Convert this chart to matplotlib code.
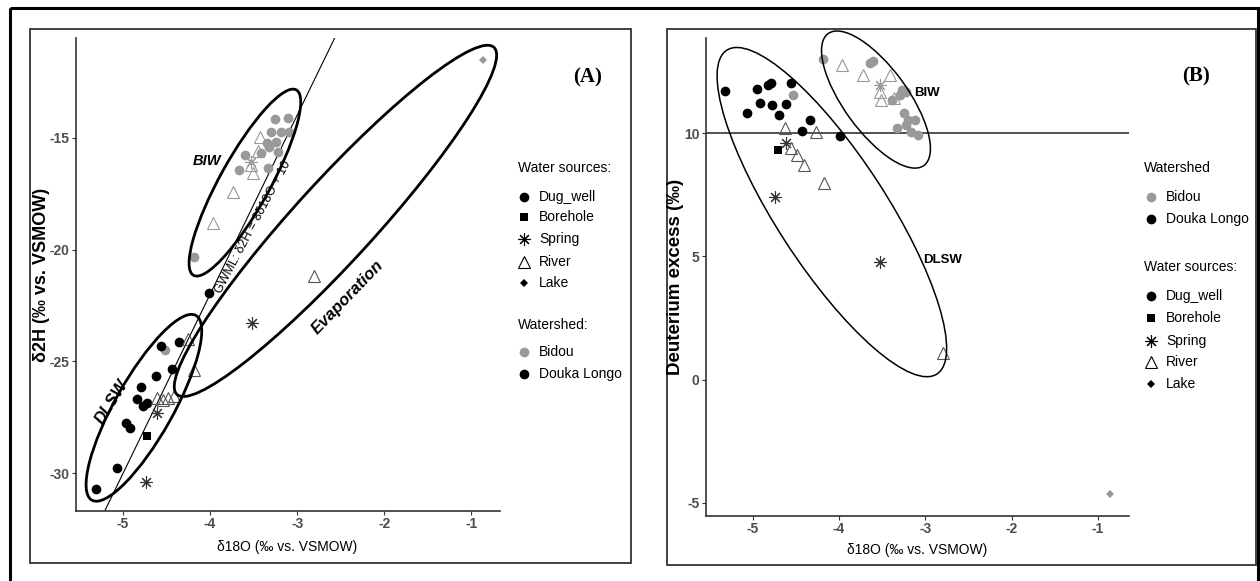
import matplotlib
matplotlib.use("Agg")
import matplotlib.pyplot as plt
import matplotlib.transforms as mtransforms
from matplotlib.patches import Ellipse, Rectangle

plt.rcParams['font.family'] = ['Liberation Sans', 'DejaVu Sans']
plt.rcParams['axes.unicode_minus'] = False

W, H, DPI = 1260, 581, 100
GRAY = '#999999'
BLACK = '#000000'

# ---------------- Panel A: d18O vs d2H ----------------
a_dl_well_x = [-4.36, -4.56, -4.44, -4.62, -4.79, -4.84, -4.77, -4.72, -4.96, -4.92, -5.07, -5.31, -4.01]
a_dl_well_y = [-24.15, -24.33, -25.34, -25.67, -26.14, -26.68, -26.98, -26.86, -27.75, -27.97, -29.76, -30.70, -21.92]
a_bi_well_x = [-3.25, -3.11, -3.30, -3.18, -3.09, -3.35, -3.24, -3.41, -3.32, -3.22, -3.60, -3.67, -3.34, -4.19, -4.52]
a_bi_well_y = [-14.17, -14.13, -14.73, -14.73, -14.73, -15.25, -15.18, -15.70, -15.40, -15.63, -15.77, -16.44, -16.37, -20.34, -24.48]
a_dl_bore_x = [-4.72]
a_dl_bore_y = [-28.32]
a_dl_spring_x = [-3.52, -4.61, -4.74]
a_dl_spring_y = [-23.29, -27.30, -30.40]
a_bi_spring_x = [-3.53]
a_bi_spring_y = [-16.07]
a_dl_river_x = [-4.25, -4.19, -4.61, -4.54, -4.48, -4.42, -2.81]
a_dl_river_y = [-24.00, -25.37, -26.63, -26.71, -26.63, -26.56, -21.17]
a_bi_river_x = [-3.97, -3.74, -3.43, -3.53, -3.51, -3.45]
a_bi_river_y = [-18.82, -17.41, -14.96, -16.22, -16.59, -15.60]
a_bi_lake_x = [-0.87]
a_bi_lake_y = [-11.53]

# ---------------- Panel B: d18O vs deuterium excess ----------------
b_dl_well_x = [-5.32, -4.95, -4.82, -4.79, -4.55, -5.07, -4.91, -4.77, -4.70, -4.61, -4.34, -4.43, -3.99]
b_dl_well_y = [11.73, 11.79, 11.96, 12.06, 12.03, 10.81, 11.24, 11.15, 10.74, 11.19, 10.54, 10.09, 9.89]
b_bi_well_x = [-4.19, -4.53, -3.64, -3.60, -3.39, -3.29, -3.22, -3.27, -3.25, -3.20, -3.12, -3.33, -3.22, -3.08, -3.17]
b_bi_well_y = [13.01, 11.56, 12.85, 12.94, 11.35, 11.56, 11.69, 11.76, 10.81, 10.54, 10.54, 10.20, 10.34, 9.93, 10.05]
b_dl_bore_x = [-4.71]
b_dl_bore_y = [9.32]
b_dl_spring_x = [-3.53, -4.61, -4.74]
b_dl_spring_y = [4.78, 9.59, 7.42]
b_bi_spring_x = [-3.53]
b_bi_spring_y = [11.96]
b_dl_river_x = [-4.63, -4.27, -4.55, -4.49, -4.41, -4.17, -2.79]
b_dl_river_y = [10.20, 10.07, 9.39, 9.12, 8.71, 7.97, 1.08]
b_bi_river_x = [-3.97, -3.72, -3.41, -3.53, -3.51, -3.36]
b_bi_river_y = [12.78, 12.37, 12.37, 11.69, 11.35, 11.45]
b_bi_lake_x = [-0.86]
b_bi_lake_y = [-4.66]

gwml_slope, gwml_intercept = 8, 10
dexcess_ref = 10

source_labels = ['Dug_well', 'Borehole', 'Spring', 'River', 'Lake']
watershed_labels = ['Bidou', 'Douka Longo']


def marker_kw(kind, color):
    if kind == 'Dug_well':
        return dict(marker='o', ms=7.0, mfc=color, mec=color, mew=0)
    if kind == 'Borehole':
        return dict(marker='s', ms=6.0, mfc=color, mec=color, mew=0)
    if kind == 'Spring':
        return dict(marker=(8, 2, 0), ms=9.0, mfc=color, mec=color, mew=0.8)
    if kind == 'River':
        return dict(marker='^', ms=8.5, mfc='none', mec=color, mew=0.8)
    return dict(marker='D', ms=4.2, mfc=color, mec=color, mew=0)


fig = plt.figure(figsize=(W / DPI, H / DPI), dpi=DPI)


def px_axes(l, t, r, b):
    return fig.add_axes([l / W, 1 - b / H, (r - l) / W, (b - t) / H])


axA = px_axes(76, 38, 500, 511)
axB = px_axes(706, 38, 1129, 515.7)


def style(ax):
    ax.patch.set_alpha(0)
    for s in ['top', 'right']:
        ax.spines[s].set_visible(False)
    for s in ['left', 'bottom']:
        ax.spines[s].set_color('#333333')
        ax.spines[s].set_linewidth(1.2)
    ax.tick_params(length=3, width=0.8, color='#333333', labelcolor='#4d4d4d',
                   labelsize=10, pad=1.5)
    for lab in ax.get_xticklabels() + ax.get_yticklabels():
        lab.set_fontweight('bold')


def ring(ax, cx, cy, w_px, h_px, angle, lw):
    tr = fig.dpi_scale_trans + mtransforms.ScaledTranslation(cx, cy, ax.transData)
    ax.add_patch(Ellipse((0, 0), w_px / DPI, h_px / DPI, angle=angle, transform=tr,
                         fill=False, ec='black', lw=lw, clip_on=False, zorder=4))


def pts(ax, x, y, kind, color):
    ax.plot(x, y, ls='none', zorder=3, **marker_kw(kind, color))


# ---- Panel A ----
axA.set_xlim(-5.54, -0.67)
axA.set_ylim(-31.68, -10.55)
axA.set_xticks([-5, -4, -3, -2, -1])
axA.set_yticks([-30, -25, -20, -15])
axA.axline((0, gwml_intercept), slope=gwml_slope, color='black', lw=0.8, zorder=2)
pts(axA, a_bi_well_x, a_bi_well_y, 'Dug_well', GRAY)
pts(axA, a_dl_well_x, a_dl_well_y, 'Dug_well', BLACK)
pts(axA, a_dl_bore_x, a_dl_bore_y, 'Borehole', BLACK)
pts(axA, a_bi_spring_x, a_bi_spring_y, 'Spring', GRAY)
pts(axA, a_dl_spring_x, a_dl_spring_y, 'Spring', '#333333')
pts(axA, a_bi_river_x, a_bi_river_y, 'River', GRAY)
pts(axA, a_dl_river_x, a_dl_river_y, 'River', '#555555')
pts(axA, a_bi_lake_x, a_bi_lake_y, 'Lake', GRAY)
style(axA)

ring(axA, -3.60, -17.01, 212, 50, 61, 2.0)      # BIW
ring(axA, -4.76, -27.07, 212, 58, 60.6, 2.0)    # DLSW
ring(axA, -2.56, -18.72, 470, 80, 47.6, 2.0)    # evaporation

axA.text(-4.04, -16.04, 'BIW', fontsize=10.5, fontweight='bold', style='italic',
         ha='center', va='center')
axA.text(-5.13, -26.8, 'DLSW', fontsize=12, fontweight='bold', style='italic',
         rotation=58, ha='center', va='center')
axA.text(-2.42, -22.13, 'Evaporation', fontsize=12, fontweight='bold', style='italic',
         rotation=46, ha='center', va='center')
axA.text(-3.51, -18.99, 'GWML: δ2H = 8δ18O + 10', fontsize=9, rotation=62,
         ha='center', va='center')

# ---- Panel B ----
axB.set_xlim(-5.54, -0.64)
axB.set_ylim(-5.53, 13.87)
axB.set_xticks([-5, -4, -3, -2, -1])
axB.set_yticks([-5, 0, 5, 10])
axB.axhline(dexcess_ref, color='#333333', lw=1.2, zorder=2)
pts(axB, b_bi_well_x, b_bi_well_y, 'Dug_well', GRAY)
pts(axB, b_dl_well_x, b_dl_well_y, 'Dug_well', BLACK)
pts(axB, b_dl_bore_x, b_dl_bore_y, 'Borehole', BLACK)
pts(axB, b_bi_spring_x, b_bi_spring_y, 'Spring', GRAY)
pts(axB, b_dl_spring_x, b_dl_spring_y, 'Spring', '#333333')
pts(axB, b_bi_river_x, b_bi_river_y, 'River', GRAY)
pts(axB, b_dl_river_x, b_dl_river_y, 'River', '#555555')
pts(axB, b_bi_lake_x, b_bi_lake_y, 'Lake', GRAY)
style(axB)

ring(axB, -3.571, 11.37, 163, 64, -54, 1.1)     # BIW
ring(axB, -4.082, 6.80, 386, 110, -57, 1.1)     # DLSW

axB.text(-2.98, 11.63, 'BIW', fontsize=9.5, fontweight='bold', ha='center', va='center')
axB.text(-2.80, 4.85, 'DLSW', fontsize=9.5, fontweight='bold', ha='center', va='center')

# ---- overlay in pixel space: frames, labels, legends ----
ov = fig.add_axes([0, 0, 1, 1], zorder=5)
ov.set_xlim(0, W)
ov.set_ylim(H, 0)
ov.axis('off')
ov.patch.set_alpha(0)

ov.add_patch(Rectangle((10, 8), 1248, 580, fill=False, ec='black', lw=2.2))
ov.add_patch(Rectangle((30, 29), 601, 534, fill=False, ec='#333333', lw=1.3))
ov.add_patch(Rectangle((667, 29), 589, 536, fill=False, ec='#333333', lw=1.3))

ov.text(287, 547, 'δ18O (‰ vs. VSMOW)', fontsize=10, ha='center', va='center')
ov.text(42, 275, 'δ2H (‰ vs. VSMOW)', fontsize=13, fontweight='bold', rotation=90,
        ha='center', va='center')
ov.text(917, 550, 'δ18O (‰ vs. VSMOW)', fontsize=10, ha='center', va='center')
ov.text(676, 277, 'Deuterium excess (‰)', fontsize=13.5, fontweight='bold', rotation=90,
        ha='center', va='center')

ov.text(588, 77, '(A)', fontsize=15, fontweight='bold', family='Liberation Serif',
        ha='center', va='center')
ov.text(1196, 76, '(B)', fontsize=15, fontweight='bold', family='Liberation Serif',
        ha='center', va='center')


def legend_block(x_left, x_mark, x_text, y_title, title, entries, ys):
    ov.text(x_left, y_title, title, fontsize=10, ha='left', va='center')
    for (label, kind, color), y in zip(entries, ys):
        ov.plot([x_mark], [y], ls='none', **marker_kw(kind, color))
        ov.text(x_text, y, label, fontsize=10, ha='left', va='center')


src_entries = [(lab, lab, BLACK) for lab in source_labels]
ws_entries = [(watershed_labels[0], 'Dug_well', GRAY), (watershed_labels[1], 'Dug_well', BLACK)]

legend_block(518, 524, 539, 168, 'Water sources:', src_entries, [197, 217, 239, 262, 283])
legend_block(518, 524, 539, 325, 'Watershed:', ws_entries, [352, 374])
legend_block(1144, 1151, 1166, 168, 'Watershed', ws_entries, [197, 219])
legend_block(1144, 1151, 1166, 267, 'Water sources:', src_entries, [296, 318, 341, 362, 384])

fig.savefig('out.png', dpi=DPI)
